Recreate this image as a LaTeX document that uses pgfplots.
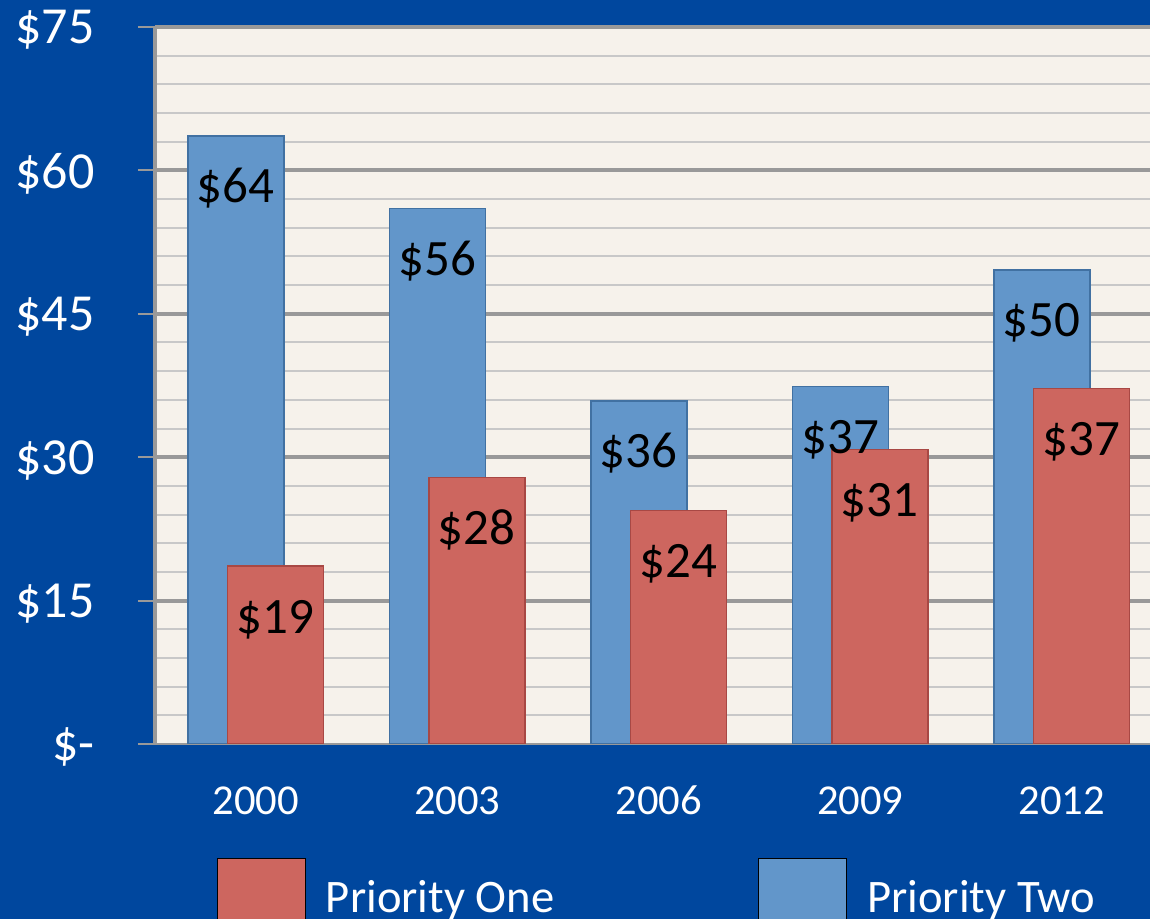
\documentclass[border=0pt]{standalone}
\usepackage{pgfplots}
\pgfplotsset{compat=1.18}
\usepackage{fontspec}
\setmainfont{Carlito}
\definecolor{bgblue}{RGB}{0,71,158}
\definecolor{cream}{RGB}{246,242,235}
\definecolor{majgrid}{RGB}{153,153,153}
\definecolor{mingrid}{RGB}{200,200,200}
\definecolor{barblue}{RGB}{98,150,202}
\definecolor{blueedge}{RGB}{65,113,162}
\definecolor{barred}{RGB}{205,102,95}
\definecolor{rededge}{RGB}{168,72,68}
\begin{document}
\begin{tikzpicture}
\useasboundingbox (0pt,0pt) rectangle (575pt,459.5pt);
\clip (0pt,0pt) rectangle (575pt,459.5pt);
\fill[bgblue] (0pt,0pt) rectangle (575pt,459.5pt);
\begin{axis}[
  at={(77.5pt,87.5pt)}, anchor=south west,
  scale only axis, width=497.5pt, height=358.5pt,
  xmin=-0.5, xmax=4.438, ymin=0, ymax=75,
  axis background/.style={fill=cream},
  axis x line*=bottom, axis y line*=left,
  x axis line style={draw=majgrid, line width=1pt, -},
  y axis line style={draw=majgrid, line width=1.75pt, -},
  xtick={0,...,4}, xticklabels={2000,2003,2006,2009,2012},
  xtick style={draw=none},
  xticklabel style={anchor=base, yshift=-27pt, font=\fontsize{21.3}{25}\selectfont, text=white},
  ytick={0,15,...,75}, yticklabels={\$-,\$15,\$30,\$45,\$60,\$75},
  ytick style={draw=majgrid, line width=1pt},
  major tick length=8.5pt, tick align=outside,
  yticklabel style={anchor=east, inner sep=0pt, xshift=-21.5pt, yshift=-1.5pt, font=\fontsize{26}{31}\selectfont, text=white},
  minor ytick={3,6,...,72}, minor tick length=0pt,
  yminorgrids, minor grid style={draw=mingrid, line width=1pt},
  extra y ticks={15,30,45,60,75}, extra y tick labels={},
  extra y tick style={grid=major, major tick length=0pt, major grid style={draw=majgrid, line width=2pt}},
  /pgf/number format/assume math mode=true,
  nodes near coords={\$\pgfmathprintnumber[fixed,precision=0]{\pgfplotspointmeta}},
  every node near coord/.append style={anchor=base, yshift=-33.5pt, font=\fontsize{25.5}{30}\selectfont, text=black},
  legend style={at={(0.0623,-0.159)}, anchor=north west, legend columns=2, draw=none, fill=none,
    inner sep=0pt, outer sep=0pt,
    nodes={inner sep=0pt, text=white, font=\fontsize{23.3}{28}\selectfont},
    /tikz/every odd column/.append style={column sep=10pt},
    /tikz/every even column/.append style={column sep=102pt}},
  legend image code/.code={\draw[#1, draw=black, line width=0.5pt] (0pt,-24.5pt) rectangle (44pt,19.5pt);},
  reverse legend,
]
\addplot[ybar, bar width=0.476, bar shift=-0.099, fill=barblue, draw=blueedge, line width=0.75pt,
  every node near coord/.append style={xshift=-10pt}]
  coordinates {(0,63.6) (1,56.0) (2,35.9) (3,37.4) (4,49.6)};
\addlegendentry{Priority Two}
\addplot[ybar, bar width=0.476, bar shift=0.097, fill=barred, draw=rededge, line width=0.75pt,
  every node near coord/.append style={xshift=9.75pt}]
  coordinates {(0,18.6) (1,27.9) (2,24.4) (3,30.8) (4,37.2)};
\addlegendentry{Priority One}
\end{axis}
\end{tikzpicture}
\end{document}
